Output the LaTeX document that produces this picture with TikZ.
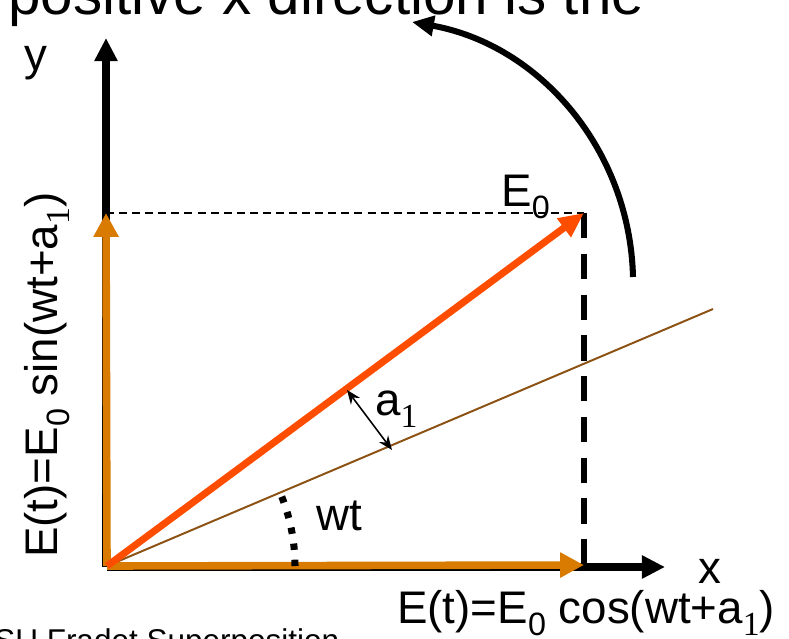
\documentclass[tikz,border=0pt]{standalone}
\usepackage{fontspec}
\setmainfont{Liberation Sans}
\newfontfamily\serifnum{Liberation Serif}
\usetikzlibrary{arrows.meta}
\definecolor{myorange}{RGB}{217,123,0}
\definecolor{myred}{RGB}{255,77,0}
\definecolor{mybrown}{RGB}{139,82,20}
\newcommand{\lowsub}[1]{\raisebox{-0.28em}{\fontsize{23}{26}\selectfont #1}}
\newcommand{\serifsub}[1]{\raisebox{-0.28em}{\fontsize{24}{26}\selectfont\serifnum #1}}

\begin{document}
\begin{tikzpicture}[x=0.025cm, y=-0.025cm,
    axisline/.style={line width=5pt, -{Triangle[length=16.4pt,width=15.6pt]}},
    comp/.style={myorange, line width=5.4pt, -{Triangle[length=17pt,width=17pt]}},
    lbl/.style={inner sep=0pt, font=\fontsize{32.5}{38}\selectfont}]

            \clip (0,0) rectangle (789,638);

            \coordinate (O) at (107,566);
            \coordinate (Ytop) at (106,38);
            \coordinate (Ybot) at (106,567);
            \coordinate (Xbot) at (107,567);
            \coordinate (Xend) at (665,567);
            \coordinate (Ecos) at (584,565);
            \coordinate (Esin) at (106,213);
            \coordinate (Etip) at (584,213);
            \coordinate (Efoot) at (584,566);
            \coordinate (Lend) at (713,309);
            \coordinate (Bstart) at (633,277);
            \coordinate (Btip) at (412,22);
            \coordinate (Aone) at (347,390);
            \coordinate (Atwo) at (392,450);

            \draw[axisline] (Ybot) -- (Ytop);
            \draw[axisline] (Xbot) -- (Xend);

            \draw[mybrown, line width=1.4pt] (O) -- (Lend);
            \draw[line width=1.1pt, dash pattern=on 5.7pt off 3.6pt] (Esin) -- (Etip);
            \draw[line width=4.3pt, dash pattern=on 18pt off 11pt] (Etip) -- (Efoot);

            \draw[comp] (O) -- (Ecos);
            \draw[comp] (O) -- (Esin);
            \draw[myred, line width=5pt, -{Triangle[length=17.8pt,width=15.6pt]}] (O) -- (Etip);

            \draw[line width=5pt, dash pattern=on 4.5pt off 7pt] (O) ++(188,0) arc[start angle=0, end angle=-23, radius=188];
            \draw[line width=1.1pt, {Stealth[length=10pt,width=8pt]}-{Stealth[length=10pt,width=8pt]}] (Aone) -- (Atwo);
            \draw[line width=4.3pt, -{Triangle[length=15.6pt,width=14pt]}] (Bstart) .. controls (630,150) and (540,45) .. (Btip);

            \node[lbl, anchor=base west, font=\fontsize{41.5}{48}\selectfont] (toptext) at (8,14) {positive x direction is the};
            \node[lbl, anchor=base] (ylab) at (36,70) {y};
            \node[lbl, anchor=base] (xlab) at (710,583) {x};
            \node[lbl, anchor=base west] (ezero) at (501,206) {E\lowsub{0}};
            \node[lbl, anchor=base west] (wtlab) at (316,530) {wt};
            \node[lbl, anchor=base west] (alab) at (375,415) {a\serifsub{1}};
            \node[lbl, anchor=base west] (coslab) at (397,623) {E(t)=E\lowsub{0} cos(wt+a\serifsub{1})};
            \node[lbl, anchor=base west, rotate=90] (sinlab) at (57,558) {E(t)=E\lowsub{0} sin(wt+a\serifsub{1})};
            \node[inner sep=0pt, anchor=base west, font=\fontsize{22.4}{26}\selectfont] (footer) at (-6,651) {SU Fradet Superposition};
        \end{tikzpicture}
\end{document}
